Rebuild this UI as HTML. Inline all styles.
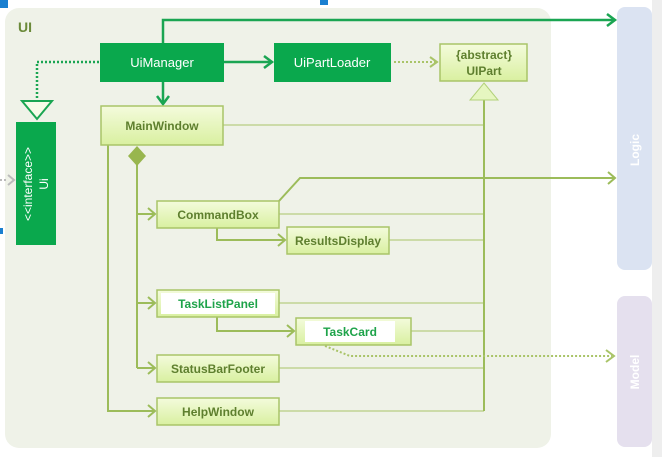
<!DOCTYPE html>
<html><head><style>
html,body{margin:0;padding:0;background:#fff;width:662px;height:457px;overflow:hidden}
svg{display:block}
text{font-family:"Liberation Sans",sans-serif;font-weight:bold}
</style></head><body>
<svg width="662" height="457" viewBox="0 0 662 457">
<defs>
<linearGradient id="lg" x1="0" y1="0" x2="0" y2="1"><stop offset="0" stop-color="#f4fbdc"/><stop offset="1" stop-color="#d9f0a0"/></linearGradient>
</defs>
<rect x="652" y="0" width="10" height="457" fill="#eeeeee"/>
<rect x="0" y="0" width="8" height="8" fill="#1a7fd0"/>
<rect x="320" y="0" width="8" height="5" fill="#1a7fd0"/>
<rect x="0" y="228" width="3" height="6" fill="#1a7fd0"/>
<rect x="5" y="8" width="546" height="440" rx="14" fill="#eff2e8"/>
<text x="18" y="32" font-size="14" fill="#6b8a3a">UI</text>
<rect x="617" y="7" width="35" height="263" rx="8" fill="#dbe3f2"/>
<rect x="617" y="296" width="35" height="151" rx="8" fill="#e5e0ee"/>
<text transform="translate(639,150) rotate(-90)" font-size="12" fill="#fff" text-anchor="middle">Logic</text>
<text transform="translate(639,372) rotate(-90)" font-size="12" fill="#fff" text-anchor="middle">Model</text>

<g stroke="#a9c468" stroke-width="1" fill="none">
<line x1="223" y1="125" x2="484" y2="125"/>
<line x1="279" y1="214" x2="484" y2="214"/>
<line x1="389" y1="240" x2="484" y2="240"/>
<line x1="279" y1="303" x2="484" y2="303"/>
<line x1="411" y1="331" x2="484" y2="331"/>
<line x1="279" y1="368" x2="484" y2="368"/>
<line x1="279" y1="411" x2="484" y2="411"/>
</g>
<g stroke="#9cbc5a" stroke-width="2" fill="none">
<line x1="484" y1="100" x2="484" y2="411"/>
<polyline points="137,160 137,368"/>
<polyline points="108,145 108,411 155,411"/>
<line x1="137" y1="214" x2="155" y2="214"/>
<line x1="137" y1="303" x2="155" y2="303"/>
<line x1="137" y1="368" x2="155" y2="368"/>
<polyline points="217,228 217,240 285,240"/>
<polyline points="217,317 217,331 294,331"/>
<polyline points="279,201 300,178 615,178"/>
<polyline points="148,208 155,214 148,220"/>
<polyline points="148,297 155,303 148,309"/>
<polyline points="148,362 155,368 148,374"/>
<polyline points="148,405 155,411 148,417"/>
<polyline points="278,234 285,240 278,246"/>
<polyline points="287,325 294,331 287,337"/>
<polyline points="608,172 615,178 608,184"/>
</g>
<polygon points="137,146 146,156 137,166 128,156" fill="#98b64e"/>
<polygon points="484,83 498,100 470,100" fill="#e6f6c0" stroke="#b3d27a"/>
<g stroke="#a9c468" stroke-width="2" fill="none" stroke-dasharray="2,2">
<polyline points="325,346 350,356 612,356"/>
<line x1="394" y1="62" x2="436" y2="62"/>
</g>
<g stroke="#a9c468" stroke-width="2" fill="none">
<polyline points="606,350 614,356 606,362"/>
<polyline points="430,57 437,62 430,67"/>
</g>
<g stroke="#bbb" stroke-width="2" fill="none">
<line x1="0" y1="180" x2="8" y2="180" stroke-dasharray="2,2"/>
<polyline points="8,175 14,180 8,185"/>
</g>

<g stroke="#1aa552" stroke-width="2.5" fill="none">
<polyline points="163,43 163,20 615,20"/>
<polyline points="607,14 615,20 607,26"/>
<line x1="224" y1="62" x2="272" y2="62"/>
<polyline points="264,56 272,62 264,68"/>
<line x1="163" y1="82" x2="163" y2="104"/>
<polyline points="157,96 163,104 169,96"/>
<polyline points="99,62 37,62 37,100" stroke-dasharray="2,2"/>
</g>
<polygon points="22,101 52,101 37,119" fill="#f7fbe8" stroke="#1aa552" stroke-width="2"/>

<rect x="100" y="43" width="124" height="39" fill="#0aa84d"/>
<text x="162" y="67" font-size="13" fill="#fff" text-anchor="middle" style="font-weight:normal">UiManager</text>
<rect x="274" y="43" width="117" height="39" fill="#0aa84d"/>
<text x="332" y="67" font-size="13" fill="#fff" text-anchor="middle" style="font-weight:normal">UiPartLoader</text>
<rect x="16" y="122" width="40" height="123" fill="#0aa84d"/>
<text transform="translate(32,184) rotate(-90)" font-size="12" fill="#fff" text-anchor="middle" style="font-weight:normal">&lt;&lt;interface&gt;&gt;</text>
<text transform="translate(48,184) rotate(-90)" font-size="12" fill="#fff" text-anchor="middle" style="font-weight:normal">Ui</text>

<g stroke="#a9c468" stroke-width="1.5" fill="url(#lg)">
<rect x="440" y="44" width="87" height="37"/>
<rect x="101" y="106" width="122" height="39"/>
<rect x="157" y="201" width="122" height="27"/>
<rect x="287" y="227" width="102" height="27"/>
<rect x="157" y="290" width="122" height="27"/>
<rect x="296" y="318" width="115" height="27"/>
<rect x="157" y="355" width="122" height="27"/>
<rect x="157" y="398" width="122" height="27"/>
</g>
<rect x="161" y="293" width="114" height="21" fill="#fff"/>
<rect x="305" y="321" width="90" height="21" fill="#fff"/>
<g font-size="12" fill="#5e7f2e" text-anchor="middle">
<text x="484" y="59">{abstract}</text>
<text x="484" y="75">UIPart</text>
<text x="162" y="130">MainWindow</text>
<text x="218" y="219">CommandBox</text>
<text x="338" y="245">ResultsDisplay</text>
<text x="218" y="373">StatusBarFooter</text>
<text x="218" y="416">HelpWindow</text>
</g>
<g font-size="12" fill="#1ea34a" text-anchor="middle">
<text x="218" y="308">TaskListPanel</text>
<text x="350" y="336">TaskCard</text>
</g>
</svg>
</body></html>
